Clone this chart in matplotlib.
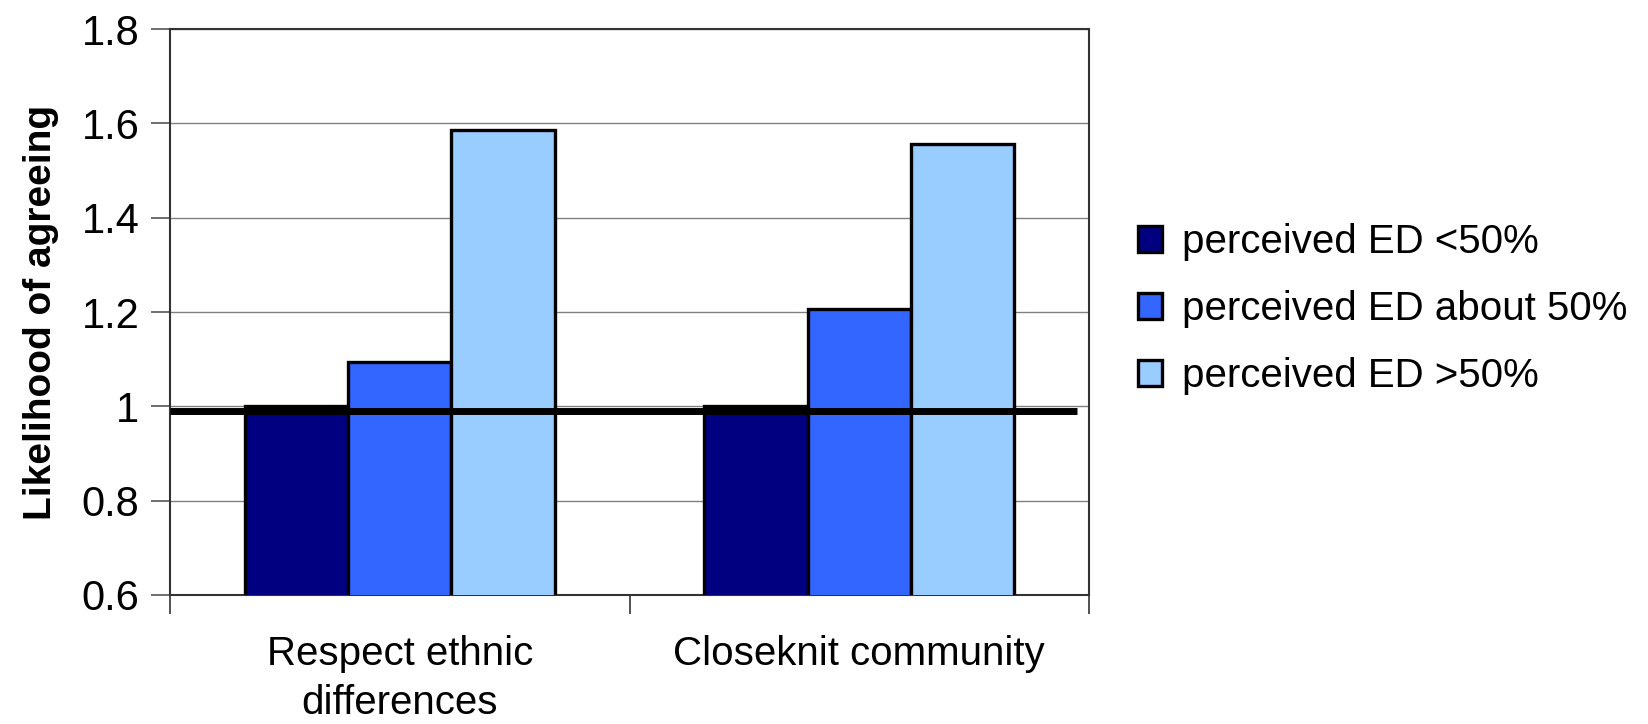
import matplotlib.pyplot as plt
import numpy as np

# data
categories = ['Respect ethnic\ndifferences', 'Closeknit community']
series_names = ['perceived ED <50%', 'perceived ED about 50%', 'perceived ED >50%']
under_50 = [1.0, 1.0]
about_50 = [1.095, 1.207]
over_50 = [1.585, 1.557]
reference_level = 0.99
yticks = [0.6, 0.8, 1.0, 1.2, 1.4, 1.6, 1.8]
ytick_labels = ['0.6', '0.8', '1', '1.2', '1.4', '1.6', '1.8']

colors = ['#000080', '#3366FF', '#99CCFF']

plt.rcParams['font.family'] = ['Liberation Sans', 'DejaVu Sans']

fig = plt.figure(figsize=(16.48, 7.24), dpi=100)
ax = fig.add_axes([170 / 1648, 1 - 595 / 724, 919 / 1648, 566 / 724])

x = np.arange(len(categories))
w = 0.225
for k, vals in enumerate([under_50, about_50, over_50]):
    ax.bar(x + (k - 1) * w, vals, width=w, color=colors[k], edgecolor='black',
           linewidth=2.4, label=series_names[k], zorder=3)

# thick reference line at ~1
ax.plot([-0.5, 1.474], [reference_level, reference_level], color='black',
        linewidth=5, zorder=4, solid_capstyle='butt')

ax.set_xlim(-0.5, 1.5)
ax.set_ylim(0.6, 1.8)
ax.set_yticks(yticks)
ax.set_yticklabels(ytick_labels)
ax.yaxis.grid(True, color='#808080', linewidth=1.0, zorder=0)
ax.set_axisbelow(True)

ax.set_xticks(x)
ax.set_xticklabels(categories, linespacing=1.35)
ax.set_xticks([-0.5, 0.5, 1.5], minor=True)
ax.tick_params(axis='x', which='major', length=0, pad=29, labelsize=29)
ax.tick_params(axis='x', which='minor', length=14, width=1.2, direction='out', color='#333333')
ax.tick_params(axis='y', length=14, width=1.2, direction='out', pad=8, labelsize=30, color='#555555')

for s in ax.spines.values():
    s.set_color('#333333')
    s.set_linewidth(1.5)

ax.set_ylabel('Likelihood of agreeing', fontsize=28, fontweight='bold', labelpad=16)

fig.legend(loc='center left', bbox_to_anchor=(1138 / 1648, 1 - 309 / 724),
           frameon=False, fontsize=29, handlelength=0.6, handleheight=0.6,
           handletextpad=0.5, labelspacing=0.72, borderpad=0, borderaxespad=0)

fig.savefig('out.png', dpi=100)
